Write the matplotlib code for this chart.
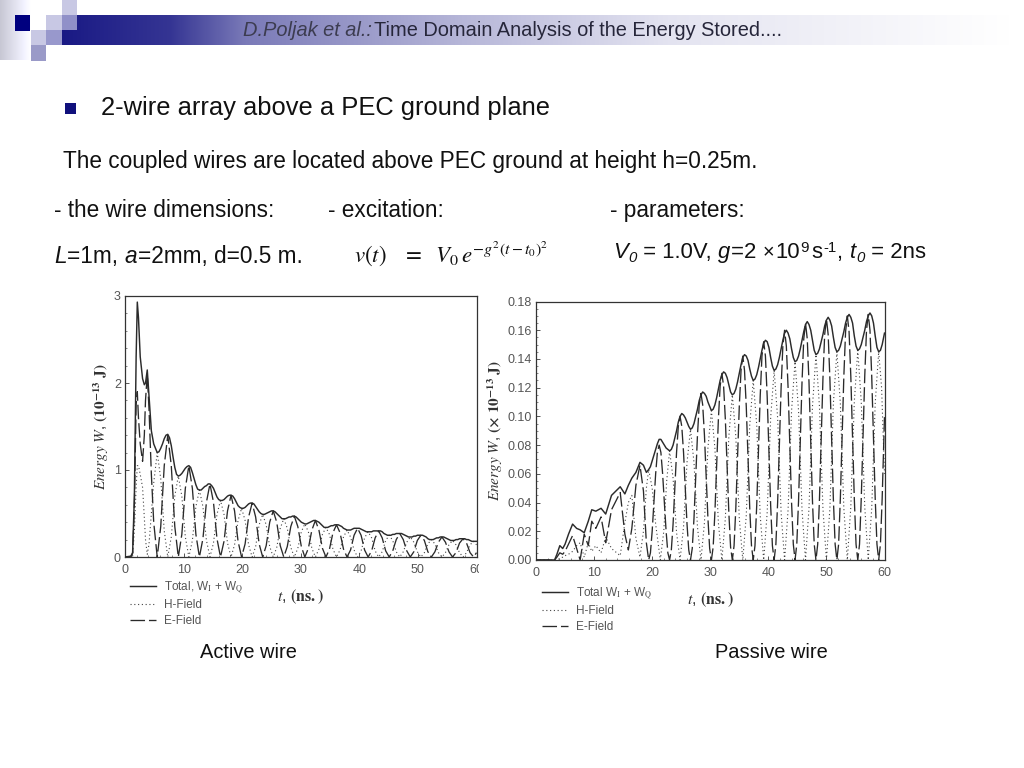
import numpy as np
from matplotlib import pyplot as plt
from matplotlib.patches import Rectangle
from matplotlib.transforms import Bbox

# active wire
# total is sampled finer than the two fields because its humps are round
t_active_total = [
  0, 1.0, 1.3, 1.6, 1.9, 2.1, 2.3, 2.6, 3.0, 3.3, 3.5, 3.8, 4.1, 4.5, 4.9, 5.5,
  5.8, 6.1, 6.4, 6.7, 7.0, 7.3, 7.6, 7.9, 8.2, 8.5, 8.8, 9.1,
  9.4, 9.7, 10.0, 10.3, 10.6, 10.9, 11.2, 11.5, 11.8, 12.1, 12.4, 12.7,
  13.0, 13.3, 13.6, 13.9, 14.2, 14.5, 14.8, 15.1, 15.4, 15.7, 16.0, 16.3,
  16.6, 16.9, 17.2, 17.5, 17.8, 18.1, 18.4, 18.7, 19.0, 19.3, 19.6, 19.9,
  20.2, 20.5, 20.8, 21.1, 21.4, 21.7, 22.0, 22.3, 22.6, 22.9, 23.2, 23.5,
  23.8, 24.1, 24.4, 24.7, 25.0, 25.3, 25.6, 25.9, 26.2, 26.5, 26.8, 27.1,
  27.4, 27.7, 28.0, 28.3, 28.6, 28.9, 29.2, 29.5, 29.8, 30.1, 30.4, 30.7,
  31.0, 31.3, 31.6, 31.9, 32.2, 32.5, 32.8, 33.1, 33.4, 33.7, 34.0, 34.3,
  34.6, 34.9, 35.2, 35.5, 35.8, 36.1, 36.4, 36.7, 37.0, 37.3, 37.6, 37.9,
  38.2, 38.5, 38.8, 39.1, 39.4, 39.7, 40.0, 40.3, 40.6, 40.9, 41.2, 41.5,
  41.8, 42.1, 42.4, 42.7, 43.0, 43.3, 43.6, 43.9, 44.2, 44.5, 44.8, 45.1,
  45.4, 45.7, 46.0, 46.3, 46.6, 46.9, 47.2, 47.5, 47.8, 48.1, 48.4, 48.7,
  49.0, 49.3, 49.6, 49.9, 50.2, 50.5, 50.8, 51.1, 51.4, 51.7, 52.0, 52.3,
  52.6, 52.9, 53.2, 53.5, 53.8, 54.1, 54.4, 54.7, 55.0, 55.3, 55.6, 55.9,
  56.2, 56.5, 56.8, 57.1, 57.4, 57.7, 58.0, 58.3, 58.6, 58.9, 59.2, 59.5, 60,
]
total_active = [
  0, 0.01, 0.05, 0.7, 2.3, 2.93, 2.75, 2.3, 2.05, 1.98, 2.0, 2.15, 1.85, 1.45, 1.3, 1.2,
  1.21, 1.25, 1.30, 1.36, 1.40, 1.41, 1.37, 1.28, 1.15, 1.03, 0.95, 0.93,
  0.94, 0.96, 0.99, 1.02, 1.04, 1.05, 1.03, 0.97, 0.90, 0.83, 0.78, 0.77,
  0.77, 0.79, 0.81, 0.82, 0.84, 0.84, 0.82, 0.79, 0.74, 0.69, 0.66, 0.65,
  0.65, 0.66, 0.68, 0.70, 0.71, 0.71, 0.70, 0.67, 0.63, 0.59, 0.57, 0.56,
  0.56, 0.57, 0.59, 0.61, 0.62, 0.62, 0.61, 0.58, 0.55, 0.52, 0.50, 0.49,
  0.49, 0.50, 0.51, 0.52, 0.53, 0.53, 0.52, 0.50, 0.48, 0.46, 0.44, 0.44,
  0.44, 0.45, 0.46, 0.46, 0.47, 0.47, 0.46, 0.44, 0.42, 0.40, 0.39, 0.38,
  0.38, 0.39, 0.40, 0.41, 0.42, 0.42, 0.41, 0.40, 0.38, 0.36, 0.34, 0.34,
  0.34, 0.35, 0.36, 0.36, 0.37, 0.37, 0.37, 0.36, 0.35, 0.33, 0.32, 0.31,
  0.31, 0.31, 0.32, 0.33, 0.33, 0.33, 0.33, 0.32, 0.31, 0.30, 0.29, 0.29,
  0.29, 0.29, 0.30, 0.30, 0.30, 0.30, 0.30, 0.29, 0.27, 0.26, 0.25, 0.25,
  0.25, 0.26, 0.26, 0.27, 0.27, 0.27, 0.27, 0.26, 0.25, 0.24, 0.23, 0.23,
  0.23, 0.24, 0.24, 0.25, 0.25, 0.25, 0.25, 0.24, 0.23, 0.21, 0.20, 0.20,
  0.20, 0.21, 0.22, 0.22, 0.23, 0.23, 0.23, 0.22, 0.21, 0.20, 0.19, 0.19,
  0.19, 0.20, 0.20, 0.21, 0.21, 0.21, 0.21, 0.20, 0.20, 0.19, 0.18, 0.18, 0.18,
]
t_active = [
  0, 1.0, 1.3, 1.6, 1.9, 2.1, 2.3, 2.6, 3.0, 3.3, 3.5, 3.8, 4.1, 4.5, 4.9, 5.5,
  6.1, 6.7, 7.3, 7.9, 8.5, 9.1,
  9.7, 10.3, 10.9, 11.5, 12.1, 12.7,
  13.3, 13.9, 14.5, 15.1, 15.7, 16.3,
  16.9, 17.5, 18.1, 18.7, 19.3, 19.9,
  20.5, 21.1, 21.7, 22.3, 22.9, 23.5,
  24.1, 24.7, 25.3, 25.9, 26.5, 27.1,
  27.7, 28.3, 28.9, 29.5, 30.1, 30.7,
  31.3, 31.9, 32.5, 33.1, 33.7, 34.3,
  34.9, 35.5, 36.1, 36.7, 37.3, 37.9,
  38.5, 39.1, 39.7, 40.3, 40.9, 41.5,
  42.1, 42.7, 43.3, 43.9, 44.5, 45.1,
  45.7, 46.3, 46.9, 47.5, 48.1, 48.7,
  49.3, 49.9, 50.5, 51.1, 51.7, 52.3,
  52.9, 53.5, 54.1, 54.7, 55.3, 55.9,
  56.5, 57.1, 57.7, 58.3, 58.9, 59.5, 60,
]
e_active = [
  0, 0, 0.04, 0.6, 1.75, 1.9, 1.6, 1.3, 1.1, 1.4, 1.8, 2.1, 1.7, 0.95, 0.4, 0,
  0.35, 1.05, 1.4, 1.05, 0.35, 0,
  0.26, 0.79, 1.05, 0.79, 0.26, 0,
  0.21, 0.63, 0.84, 0.63, 0.21, 0,
  0.18, 0.53, 0.71, 0.53, 0.18, 0,
  0.15, 0.46, 0.62, 0.46, 0.15, 0,
  0.13, 0.40, 0.53, 0.40, 0.13, 0,
  0.12, 0.35, 0.47, 0.35, 0.12, 0,
  0.10, 0.31, 0.42, 0.31, 0.10, 0,
  0.09, 0.28, 0.37, 0.28, 0.09, 0,
  0.08, 0.25, 0.33, 0.25, 0.08, 0,
  0.07, 0.22, 0.30, 0.22, 0.07, 0,
  0.07, 0.20, 0.27, 0.20, 0.07, 0,
  0.06, 0.19, 0.25, 0.19, 0.06, 0,
  0.06, 0.17, 0.23, 0.17, 0.06, 0,
  0.05, 0.16, 0.21, 0.16, 0.05, 0, 0.05,
]
h_active = [
  0, 0, 0.01, 0.3, 0.8, 1.05, 1.05, 0.95, 0.8, 0.45, 0.2, 0.03, 0.15, 0.5, 0.85, 1.2,
  0.9, 0.3, 0, 0.23, 0.7, 0.93,
  0.7, 0.23, 0, 0.19, 0.58, 0.77,
  0.58, 0.19, 0, 0.16, 0.49, 0.65,
  0.49, 0.16, 0, 0.14, 0.42, 0.56,
  0.42, 0.14, 0, 0.12, 0.37, 0.49,
  0.37, 0.12, 0, 0.11, 0.33, 0.44,
  0.33, 0.11, 0, 0.10, 0.29, 0.38,
  0.29, 0.10, 0, 0.09, 0.26, 0.34,
  0.26, 0.09, 0, 0.08, 0.23, 0.31,
  0.23, 0.08, 0, 0.07, 0.22, 0.29,
  0.22, 0.07, 0, 0.06, 0.19, 0.25,
  0.19, 0.06, 0, 0.06, 0.17, 0.23,
  0.17, 0.06, 0, 0.05, 0.15, 0.20,
  0.15, 0.05, 0, 0.05, 0.14, 0.19,
  0.14, 0.05, 0, 0.05, 0.14, 0.18, 0.14,
]

# passive wire
t_passive_fine = [
  0, 3.2, 3.6, 4.1, 4.6, 5.0, 5.6, 6.3, 7.0, 7.6, 8.3, 9.0, 9.6, 10.3, 11.2, 12.0,
  13.0, 14.5, 15.3, 15.9, 16.5, 17.2, 17.9, 18.5, 19.0, 19.4,
  19.7, 20.0, 20.3, 20.6, 20.9, 21.2, 21.5, 21.8, 22.1, 22.4, 22.7, 23.0,
  23.3, 23.6, 23.9, 24.2, 24.5, 24.8, 25.1, 25.4, 25.7, 26.0, 26.3, 26.6,
  26.9, 27.2, 27.5, 27.8, 28.1, 28.4, 28.7, 29.0, 29.3, 29.6, 29.9, 30.2,
  30.5, 30.8, 31.1, 31.4, 31.7, 32.0, 32.3, 32.6, 32.9, 33.2, 33.5, 33.8,
  34.1, 34.4, 34.7, 35.0, 35.3, 35.6, 35.9, 36.2, 36.5, 36.8, 37.1, 37.4,
  37.7, 38.0, 38.3, 38.6, 38.9, 39.2, 39.5, 39.8, 40.1, 40.4, 40.7, 41.0,
  41.3, 41.6, 41.9, 42.2, 42.5, 42.8, 43.1, 43.4, 43.7, 44.0, 44.3, 44.6,
  44.9, 45.2, 45.5, 45.8, 46.1, 46.4, 46.7, 47.0, 47.3, 47.6, 47.9, 48.2,
  48.5, 48.8, 49.1, 49.4, 49.7, 50.0, 50.3, 50.6, 50.9, 51.2, 51.5, 51.8,
  52.1, 52.4, 52.7, 53.0, 53.3, 53.6, 53.9, 54.2, 54.5, 54.8, 55.1, 55.4,
  55.7, 56.0, 56.3, 56.6, 56.9, 57.2, 57.5, 57.8, 58.1, 58.4, 58.7, 59.0,
  59.3, 59.6, 60,
]
total_passive = [
  0, 0, 0.004, 0.010, 0.008, 0.011, 0.018, 0.025, 0.022, 0.021, 0.019, 0.027, 0.035, 0.034, 0.036, 0.032,
  0.045, 0.051, 0.046, 0.052, 0.057, 0.061, 0.068, 0.066, 0.061, 0.063,
  0.065, 0.069, 0.073, 0.077, 0.081, 0.084, 0.084, 0.082, 0.080, 0.078, 0.077, 0.076,
  0.077, 0.080, 0.085, 0.090, 0.096, 0.100, 0.102, 0.101, 0.099, 0.096, 0.093, 0.091,
  0.092, 0.095, 0.100, 0.105, 0.111, 0.115, 0.117, 0.116, 0.114, 0.110, 0.107, 0.104,
  0.105, 0.108, 0.113, 0.119, 0.125, 0.129, 0.131, 0.130, 0.127, 0.122, 0.117, 0.115,
  0.116, 0.119, 0.124, 0.130, 0.136, 0.141, 0.143, 0.142, 0.139, 0.133, 0.128, 0.125,
  0.126, 0.129, 0.134, 0.140, 0.146, 0.151, 0.153, 0.152, 0.148, 0.141, 0.135, 0.132,
  0.133, 0.136, 0.141, 0.147, 0.153, 0.158, 0.160, 0.158, 0.154, 0.147, 0.141, 0.138,
  0.139, 0.142, 0.147, 0.153, 0.159, 0.164, 0.166, 0.164, 0.160, 0.153, 0.146, 0.143,
  0.144, 0.147, 0.152, 0.157, 0.163, 0.167, 0.169, 0.167, 0.163, 0.155, 0.148, 0.145,
  0.146, 0.149, 0.154, 0.159, 0.165, 0.169, 0.171, 0.169, 0.165, 0.156, 0.149, 0.146,
  0.147, 0.150, 0.155, 0.160, 0.166, 0.170, 0.172, 0.170, 0.165, 0.156, 0.148, 0.145,
  0.146, 0.150, 0.158,
]
e_passive = [
  0, 0, 0.002, 0.005, 0.004, 0.006, 0.011, 0.017, 0.008, 0, 0.018, 0.010, 0.027, 0.022, 0.030, 0.012,
  0.035, 0.047, 0.018, 0.007, 0.022, 0.052, 0.066, 0.048, 0.012, 0,
  0.005, 0.020, 0.040, 0.060, 0.075, 0.080, 0.075, 0.060, 0.040, 0.020, 0.005, 0,
  0.007, 0.025, 0.050, 0.075, 0.093, 0.100, 0.093, 0.075, 0.050, 0.025, 0.007, 0,
  0.008, 0.029, 0.058, 0.087, 0.108, 0.116, 0.108, 0.087, 0.058, 0.029, 0.008, 0,
  0.009, 0.033, 0.065, 0.098, 0.121, 0.130, 0.121, 0.098, 0.065, 0.033, 0.009, 0,
  0.010, 0.036, 0.071, 0.107, 0.132, 0.142, 0.132, 0.107, 0.071, 0.036, 0.010, 0,
  0.010, 0.038, 0.076, 0.114, 0.142, 0.152, 0.142, 0.114, 0.076, 0.038, 0.010, 0,
  0.011, 0.040, 0.080, 0.120, 0.149, 0.160, 0.149, 0.120, 0.080, 0.040, 0.011, 0,
  0.011, 0.041, 0.083, 0.124, 0.154, 0.165, 0.154, 0.124, 0.083, 0.041, 0.011, 0,
  0.011, 0.042, 0.084, 0.126, 0.157, 0.168, 0.157, 0.126, 0.084, 0.042, 0.011, 0,
  0.011, 0.043, 0.085, 0.128, 0.159, 0.170, 0.159, 0.128, 0.085, 0.043, 0.011, 0,
  0.011, 0.043, 0.086, 0.128, 0.160, 0.171, 0.160, 0.128, 0.086, 0.043, 0.011, 0,
  0.011, 0.043, 0.100,
]
t_passive = [
  0, 3.2, 3.6, 4.1, 4.6, 5.0, 5.6, 6.3, 7.0, 7.6, 8.3, 9.0, 9.6, 10.3, 11.2, 12.0,
  13.0, 14.5, 15.3, 15.9, 16.5, 17.2, 17.9, 18.5, 19.0, 19.4,
  20.0, 20.6, 21.4, 22.0, 22.5, 23.0,
  23.6, 24.2, 24.8, 25.4, 26.0, 26.6,
  27.2, 27.8, 28.4, 29.0, 29.6, 30.2,
  30.8, 31.4, 32.0, 32.6, 33.2, 33.8,
  34.4, 35.0, 35.6, 36.2, 36.8, 37.4,
  38.0, 38.6, 39.2, 39.8, 40.4, 41.0,
  41.6, 42.2, 42.8, 43.4, 44.0, 44.6,
  45.2, 45.8, 46.4, 47.0, 47.6, 48.2,
  48.8, 49.4, 50.0, 50.6, 51.2, 51.8,
  52.4, 53.0, 53.6, 54.2, 54.8, 55.4,
  56.0, 56.6, 57.2, 57.8, 58.4, 59.0, 59.5, 60,
]
h_passive = [
  0, 0, 0, 0.001, 0.002, 0.003, 0.004, 0.006, 0.010, 0.012, 0.002, 0.012, 0.006, 0.010, 0.005, 0.016,
  0.008, 0.003, 0.026, 0.040, 0.045, 0.015, 0.002, 0.020, 0.050, 0.063,
  0.050, 0.025, 0, 0.020, 0.055, 0.076,
  0.057, 0.019, 0, 0.023, 0.068, 0.091,
  0.068, 0.023, 0, 0.026, 0.078, 0.104,
  0.078, 0.026, 0, 0.029, 0.086, 0.115,
  0.086, 0.029, 0, 0.031, 0.094, 0.125,
  0.094, 0.031, 0, 0.033, 0.099, 0.132,
  0.099, 0.033, 0, 0.035, 0.104, 0.138,
  0.104, 0.035, 0, 0.036, 0.107, 0.143,
  0.107, 0.036, 0, 0.036, 0.109, 0.145,
  0.109, 0.036, 0, 0.037, 0.110, 0.146,
  0.110, 0.037, 0, 0.036, 0.109, 0.145, 0.120, 0.060,
]

active_yticks = [0, 1, 2, 3]
passive_yticks = [0.00, 0.02, 0.04, 0.06, 0.08, 0.10, 0.12, 0.14, 0.16, 0.18]
xticks = [0, 10, 20, 30, 40, 50, 60]

W, H = 1024, 768
INK = "#2b2b2b"
GREY = "#555555"
TEXT = "#111111"

plt.rcParams["font.family"] = ["Liberation Sans", "DejaVu Sans"]
plt.rcParams["mathtext.fontset"] = "stix"

fig = plt.figure(figsize=(W / 100, H / 100), dpi=100, facecolor="white")


def px_axes(left, top, right, bottom):
  return fig.add_axes([left / W, 1 - bottom / H, (right - left) / W, (bottom - top) / H])


# slide decoration and text live on one axes in pixel coordinates
deco = fig.add_axes([0, 0, 1, 1])
deco.axis("off")

# fade of the header bar, stops picked off the slide
bar_x = np.linspace(62, 1010, 512)
ramp = np.interp(bar_x, [62, 170, 245, 460, 670, 1010], [0, 0.12, 0.42, 0.68, 0.88, 1])
navy = np.array([0.10, 0.10, 0.52])
grad = navy[None, None, :] * (1 - ramp[None, :, None]) + ramp[None, :, None]
deco.imshow(grad, extent=(62, 1010, 45, 15), aspect="auto", zorder=1)

soft = np.linspace(0.78, 1, 64)[None, :, None] * np.ones((1, 64, 3))
soft[:, :, 2] = np.minimum(1, soft[:, :, 2] + 0.05)
deco.imshow(soft, extent=(0, 31, 60, 0), aspect="auto", zorder=1)
deco.set_xlim(0, W)
deco.set_ylim(H, 0)

for x, y, w, h, c in [
  (62, 15, 15, 15, "#9090c8"),
  (62, 0, 15, 15, "#c8c8e4"),
  (46, 15, 16, 15, "#c8c8e4"),
  (46, 30, 16, 15, "#9898cc"),
  (31, 15, 15, 15, "#ffffff"),
  (46, 0, 16, 15, "#ffffff"),
  (31, 30, 15, 15, "#c8c8e4"),
  (31, 45, 15, 16, "#9a9ac8"),
  (15, 15, 15, 16, "#00007f"),
  (65, 103, 11, 11, "#10107c"),
]:
  deco.add_patch(Rectangle((x, y), w, h, fc=c, ec="none", zorder=2))


def text_run(x, y, pieces, size):
  """Lay out (text, italic, scale, lift) pieces one after another from x on baseline y."""
  renderer = fig.canvas.get_renderer()
  for s, italic, scale, lift in pieces:
    deco.text(x, y - lift, s, fontsize=size * scale, style="italic" if italic else "normal",
              color=TEXT, va="baseline", zorder=3)
    # "t" has the advance of a space, and unlike a space it is always measured
    probe = deco.text(0, 0, s.replace(" ", "t"), fontsize=size * scale,
                      style="italic" if italic else "normal")
    x += probe.get_window_extent(renderer).width + 0.5
    probe.remove()
  return x


deco.text(243, 36.5, "D.Poljak et al.:", fontsize=14.4, style="italic", color="#3c3c50", va="baseline", zorder=3)
deco.text(374, 36.5, "Time Domain Analysis of the Energy Stored....", fontsize=14.4, color="#26263a", va="baseline", zorder=3)

deco.text(101, 115.5, "2-wire array above a PEC ground plane", fontsize=18.4, color=TEXT, va="baseline")
deco.text(63, 168, "The coupled wires are located above PEC ground at height h=0.25m.", fontsize=16.3, color=TEXT, va="baseline")
deco.text(54, 217, "- the wire dimensions:", fontsize=16.3, color=TEXT, va="baseline")
deco.text(328, 217, "- excitation:", fontsize=16.3, color=TEXT, va="baseline")
deco.text(610, 217, "- parameters:", fontsize=16.3, color=TEXT, va="baseline")

text_run(54, 263, [("L", True, 1, 0), ("=1m, ", False, 1, 0),
                   ("a", True, 1, 0), ("=2mm, d=0.5 m.", False, 1, 0)], 16.3)
deco.text(354, 262, r"$v(t)\ \ \ =\ \ V_0\,e^{-g^2(t-t_0)^2}$", fontsize=16.5, color=TEXT, va="baseline")
text_run(613, 258, [("V", True, 1, 0), ("0", True, 0.68, -4), (" = 1.0V, ", False, 1, 0),
                    ("g", True, 1, 0), ("=2 ", False, 1, 0), ("\u00d7", False, 0.9, 0),
                    ("10", False, 1, 0), ("9", False, 0.68, 6), (" ", False, 0.3, 0), ("s", False, 1, 0),
                    ("-1", False, 0.68, 6), (", ", False, 1, 0),
                    ("t", True, 1, 0), ("0", True, 0.68, -4), (" = 2ns", False, 1, 0)], 15.95)

deco.text(248, 657.5, "Active wire", fontsize=14.4, color=TEXT, ha="center", va="baseline")
deco.text(771, 657.5, "Passive wire", fontsize=14.4, color=TEXT, ha="center", va="baseline")


def draw_panel(ax, t_total, total, t_fields, h_field, t_e, e_field, yticks, yfmt, ylabel,
               legend_total, legend_anchor, xpad):
  ax.plot(t_fields, h_field, color="#444444", lw=0.8, ls=(0, (1, 2.4)), label="H-Field", zorder=2)
  ax.plot(t_e, e_field, color="#2a2a2a", lw=0.95, ls=(0, (11, 3)), label="E-Field", zorder=3)
  ax.plot(t_total, total, color=INK, lw=1.05, label=legend_total, zorder=4)
  ax.set_xlim(0, 60)
  ax.set_ylim(yticks[0], yticks[-1])
  ax.set_xticks(xticks)
  ax.set_yticks(yticks)
  ax.set_yticklabels([yfmt.format(v) for v in yticks])
  ax.minorticks_on()
  ax.tick_params(which="major", direction="in", length=3, width=0.7, labelsize=9,
                 labelcolor=GREY, color=GREY, pad=3)
  ax.tick_params(axis="x", which="major", pad=5)
  ax.tick_params(which="minor", direction="in", length=1.5, width=0.5, color=GREY)
  for spine in ax.spines.values():
    spine.set_linewidth(0.9)
    spine.set_color("#333333")
  ax.set_xlabel(r"$\mathit{t}$, $\mathbf{(ns{.})}$", fontsize=11.5, color="#333333", labelpad=xpad)
  ax.set_ylabel(ylabel, fontsize=11, color="#333333", labelpad=2)
  handles, labels = ax.get_legend_handles_labels()
  order = [2, 0, 1]
  leg = ax.legend(
    [handles[i] for i in order],
    [labels[i] for i in order],
    loc="upper left",
    bbox_to_anchor=legend_anchor,
    frameon=False,
    fontsize=8.5,
    labelcolor=GREY,
    handlelength=2.2,
    labelspacing=0.35,
    handletextpad=0.7,
    borderpad=0,
    borderaxespad=0,
  )
  leg.set_zorder(5)


ax_active = px_axes(125, 296, 476.5, 557)
draw_panel(
  ax_active, t_active_total, total_active, t_active, h_active, t_active, e_active,
  active_yticks, "{:d}",
  r"$\mathit{Energy\ W}$, $\mathbf{(10^{-13}\ J)}$",
  r"Total, W$_{\mathrm{I}}$ + W$_{\mathrm{Q}}$", (0.014, -0.085), 8,
)
ax_passive = px_axes(536, 301.5, 884.5, 560)
draw_panel(
  ax_passive, t_passive_fine, total_passive, t_passive, h_passive, t_passive_fine, e_passive,
  passive_yticks, "{:.2f}",
  r"$\mathit{Energy\ W}$, $\mathbf{(\times\ 10^{-13}\ J)}$",
  r"Total W$_{\mathrm{I}}$ + W$_{\mathrm{Q}}$", (0.017, -0.098), 8,
)

# the reference crops the last tick label of the left panel
fig.canvas.draw()
last = ax_active.get_xticklabels()[-1]
last.set_clip_on(True)
last.set_clip_box(Bbox.from_extents(0, 0, 479, H))

fig.savefig("out.png", dpi=100)
